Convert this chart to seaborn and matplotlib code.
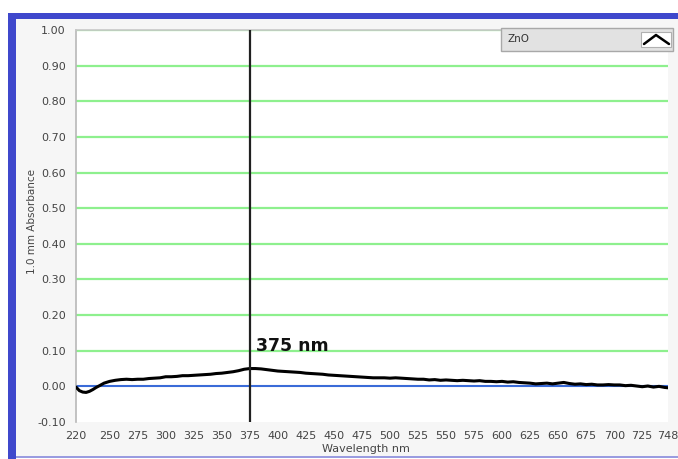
import matplotlib
matplotlib.use("Agg")
import matplotlib.pyplot as plt
import seaborn as sns
import pandas as pd
from matplotlib.patches import Rectangle
from matplotlib.lines import Line2D

# ---- data ----
wavelength = [220, 223, 226, 229, 232, 235, 238, 241, 245, 250, 255, 260, 265, 270, 275,
              280, 285, 290, 295, 300, 305, 310, 315, 320, 325, 330, 335, 340, 345, 350,
              355, 360, 365, 370, 375, 380, 385, 390, 395, 400, 405, 410, 415, 420, 425,
              430, 435, 440, 445, 450, 455, 460, 465, 470, 475, 480, 485, 490, 495, 500,
              505, 510, 515, 520, 525, 530, 535, 540, 545, 550, 555, 560, 565, 570, 575,
              580, 585, 590, 595, 600, 605, 610, 615, 620, 625, 630, 635, 640, 645, 650,
              655, 660, 665, 670, 675, 680, 685, 690, 695, 700, 705, 710, 715, 720, 725,
              730, 735, 740, 745, 748]
absorbance = [-0.002, -0.012, -0.016, -0.017, -0.014, -0.009, -0.003, 0.002, 0.009, 0.014,
              0.017, 0.019, 0.020, 0.019, 0.020, 0.020, 0.022, 0.023, 0.024, 0.027,
              0.027, 0.028, 0.030, 0.030, 0.031, 0.032, 0.033, 0.034, 0.036, 0.037,
              0.039, 0.041, 0.044, 0.048, 0.050, 0.050, 0.049, 0.047, 0.045, 0.043,
              0.042, 0.041, 0.040, 0.039, 0.037, 0.036, 0.035, 0.034, 0.032, 0.031,
              0.030, 0.029, 0.028, 0.027, 0.026, 0.025, 0.024, 0.024, 0.024, 0.023,
              0.024, 0.023, 0.022, 0.021, 0.020, 0.020, 0.018, 0.019, 0.017, 0.018,
              0.017, 0.016, 0.017, 0.016, 0.015, 0.016, 0.014, 0.014, 0.013, 0.014,
              0.012, 0.013, 0.011, 0.010, 0.009, 0.007, 0.008, 0.009, 0.007, 0.009,
              0.011, 0.008, 0.006, 0.007, 0.005, 0.006, 0.004, 0.004, 0.005, 0.004,
              0.004, 0.002, 0.003, 0.001, -0.001, 0.001, -0.002, 0.000, -0.003, -0.004]
x_ticks = [220, 250, 275, 300, 325, 350, 375, 400, 425, 450, 475, 500, 525, 550, 575,
           600, 625, 650, 675, 700, 725, 748]
y_ticks = [-0.10, 0.00, 0.10, 0.20, 0.30, 0.40, 0.50, 0.60, 0.70, 0.80, 0.90, 1.00]
peak_wavelength = 375
peak_label = "375 nm"
series_name = "ZnO"

df = pd.DataFrame({"Wavelength": wavelength, "Absorbance": absorbance})

sns.set_style("white")
plt.rcParams["font.family"] = ["DejaVu Sans"]

W, H = 678, 459
fig = plt.figure(figsize=(W / 100, H / 100), dpi=100, facecolor="white")


def px(x0, y0, x1, y1):
    """pixel box (top-left origin) -> figure-fraction rectangle args"""
    return (x0 / W, 1 - y1 / H), (x1 - x0) / W, (y1 - y0) / H


def frect(x0, y0, x1, y1, **kw):
    xy, w, h = px(x0, y0, x1, y1)
    fig.patches.append(Rectangle(xy, w, h, transform=fig.transFigure, **kw))


# window frame (below the axes)
frect(16, 19, 678, 457, facecolor="#f6f6f6", edgecolor="none", zorder=-3)
frect(8, 13, 678, 19, facecolor="#3f48cc", edgecolor="none", zorder=-2)
frect(8, 13, 16, 459, facecolor="#3f48cc", edgecolor="none", zorder=-2)
frect(16, 456, 678, 458, facecolor="#9a9ce0", edgecolor="none", zorder=-2)

ax = fig.add_axes([76 / W, 37 / H, 592 / W, 392 / H])
ax.set_zorder(1)
ax.set_facecolor("white")

# grid lines
for yv in y_ticks:
    if yv > 0.001:
        ax.axhline(yv, color="#8ef08e", lw=1.6, zorder=1)
ax.axhline(0.0, color="#3a6bd8", lw=1.5, zorder=2)

sns.lineplot(data=df, x="Wavelength", y="Absorbance", ax=ax, color="black",
             lw=2.2, zorder=4, legend=False)

ax.axvline(peak_wavelength, color="#202020", lw=1.6, zorder=5)
ax.text(peak_wavelength + 5.5, 0.099, peak_label, fontsize=12.5,
        fontweight="bold", color="#111111", ha="left", va="baseline", zorder=6)

ax.set_xlim(220, 748)
ax.set_ylim(-0.10, 1.00)
ax.set_xticks(x_ticks)
ax.set_xticklabels([str(t) for t in x_ticks])
ax.set_xticks([225], minor=True)
ax.set_yticks(y_ticks)
ax.set_yticklabels([f"{t:.2f}" for t in y_ticks])
ax.tick_params(axis="x", which="both", length=3, width=1, color="#777777",
               labelsize=8, labelcolor="#444444", pad=3.5, direction="out")
ax.tick_params(axis="y", length=0, labelsize=8, labelcolor="#444444", pad=7.5)
ax.set_xlabel("Wavelength nm", fontsize=8, color="#444444")
ax.xaxis.set_label_coords((366 - 76) / 592, -0.069)
ax.xaxis.label.set_va("center")
ax.set_ylabel("1.0 mm Absorbance", fontsize=7.5, color="#444444")
ax.yaxis.set_label_coords((32 - 76) / 592, (422 - 222) / 392)
ax.yaxis.label.set_va("center")

for s in ["right", "bottom"]:
    ax.spines[s].set_visible(False)
ax.spines["left"].set_color("#b8b8b8")
ax.spines["left"].set_linewidth(1.2)
ax.spines["top"].set_color("#c8c8c8")
ax.spines["top"].set_linewidth(1.2)

# legend box (series name) in top right
frect(501, 28, 673, 51, facecolor="#e2e2e2", edgecolor="#a8a8a8", lw=1.0, zorder=10)
frect(641, 32, 671, 47, facecolor="white", edgecolor="#b0b0b0", lw=0.8, zorder=11)
fig.text(507 / W, 1 - 39.5 / H, series_name, fontsize=7.5, color="#333333",
         ha="left", va="center", zorder=12)
fig.lines.append(Line2D([644 / W, 656 / W, 669 / W],
                        [1 - 44 / H, 1 - 35 / H, 1 - 44 / H],
                        transform=fig.transFigure, color="black", lw=1.8, zorder=12))

fig.savefig("out.png", dpi=100, facecolor="white")
